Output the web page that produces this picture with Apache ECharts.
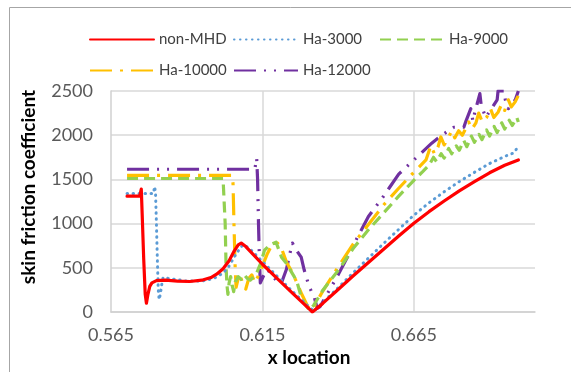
<!DOCTYPE html>
<html>
<head>
<meta charset="utf-8">
<script src="https://cdn.jsdelivr.net/npm/echarts@6/dist/echarts.min.js"></script>
<style>
  html, body { margin: 0; padding: 0; background: #fff; }
  #chart { width: 571px; height: 372px; }
</style>
</head>
<body>
<div id="chart"></div>
<script>
// Skin friction coefficient along the wall, [x location, value]
const seriesNames = ['non-MHD', 'Ha-3000', 'Ha-9000', 'Ha-10000', 'Ha-12000'];

const nonMHD = [
  [0.5703,1310],[0.5745,1310],[0.5748,1330],[0.5750,1390],[0.5753,1100],[0.5758,600],
  [0.5763,200],[0.5767,100],[0.5772,200],[0.5778,290],[0.5785,330],[0.5800,355],
  [0.5830,360],[0.5870,350],[0.5910,345],[0.5950,360],[0.5980,390],[0.6000,430],
  [0.6020,490],[0.6040,580],[0.6055,680],[0.6070,760],[0.6080,780],[0.6095,740],
  [0.6120,650],[0.6150,540],[0.6200,375],[0.6250,210],[0.6300,50],[0.6315,0],
  [0.6350,100],[0.6400,255],[0.6450,410],[0.6500,560],[0.6550,710],[0.6600,860],
  [0.6650,1005],[0.6700,1135],[0.6750,1255],[0.6800,1370],[0.6850,1475],[0.6900,1575],
  [0.6950,1660],[0.6995,1720]
];

const ha3000 = [
  [0.5703,1340],[0.5790,1340],[0.5794,1420],[0.5797,1350],[0.5800,1000],[0.5803,600],
  [0.5806,250],[0.5809,140],[0.5813,200],[0.5817,300],[0.5822,390],[0.5830,385],
  [0.5860,370],[0.5900,350],[0.5950,350],[0.5990,380],[0.6020,440],[0.6040,520],
  [0.6060,640],[0.6080,740],[0.6090,760],[0.6110,710],[0.6150,570],[0.6200,400],
  [0.6250,230],[0.6300,70],[0.6320,10],[0.6350,110],[0.6400,275],[0.6450,445],
  [0.6500,610],[0.6550,775],[0.6600,935],[0.6650,1095],[0.6700,1235],[0.6750,1360],
  [0.6800,1475],[0.6850,1580],[0.6900,1680],[0.6950,1760],[0.6980,1800],[0.6990,1850],
  [0.6995,1810]
];

const ha9000 = [
  [0.5703,1510],[0.6020,1510],[0.6025,1500],[0.6027,1000],[0.6030,500],[0.6033,300],
  [0.6036,200],[0.6040,330],[0.6045,400],[0.6050,300],[0.6055,230],[0.6060,340],
  [0.6070,400],[0.6080,370],[0.6090,420],[0.6100,380],[0.6110,360],[0.6130,430],
  [0.6145,560],[0.6157,700],[0.6175,760],[0.6195,790],[0.6213,620],[0.6229,550],
  [0.6255,400],[0.6265,330],[0.6278,170],[0.6288,100],[0.6305,20],[0.6320,80],
  [0.6350,250],[0.6400,470],[0.6450,720],[0.6500,930],[0.6550,1120],[0.6600,1310],
  [0.6650,1490],[0.6680,1590],[0.6700,1660],[0.6715,1750],[0.6725,1700],[0.6740,1790],
  [0.6750,1740],[0.6765,1850],[0.6775,1790],[0.6790,1880],[0.6800,1830],[0.6815,1940],
  [0.6825,1870],[0.6840,1990],[0.6850,1920],[0.6865,2010],[0.6875,1950],[0.6890,2060],
  [0.6900,1990],[0.6915,2100],[0.6925,2030],[0.6940,2140],[0.6950,2070],[0.6965,2170],
  [0.6975,2110],[0.6990,2200],[0.6995,2150]
];

const ha10000 = [
  [0.5703,1545],[0.6050,1545],[0.6053,1450],[0.6056,1000],[0.6060,500],[0.6063,280],
  [0.6068,350],[0.6075,430],[0.6085,320],[0.6095,260],[0.6105,380],[0.6115,420],
  [0.6125,330],[0.6135,400],[0.6150,520],[0.6165,650],[0.6180,750],[0.6200,780],
  [0.6215,700],[0.6230,560],[0.6245,470],[0.6260,360],[0.6280,200],[0.6300,60],
  [0.6313,20],[0.6350,240],[0.6400,510],[0.6450,770],[0.6500,990],[0.6550,1210],
  [0.6600,1400],[0.6650,1580],[0.6690,1720],[0.6706,1880],[0.6718,1790],[0.6730,1870],
  [0.6739,1980],[0.6750,1890],[0.6762,1960],[0.6775,2050],[0.6785,1970],[0.6798,2050],
  [0.6810,2000],[0.6822,2080],[0.6831,2150],[0.6842,2070],[0.6855,2140],[0.6864,2250],
  [0.6876,2150],[0.6890,2200],[0.6903,2300],[0.6914,2200],[0.6928,2260],[0.6940,2350],
  [0.6950,2280],[0.6962,2400],[0.6972,2320],[0.6985,2380],[0.6995,2450]
];

const ha12000 = [
  [0.5703,1615],[0.6125,1615],[0.6128,1680],[0.6131,1740],[0.6134,1500],[0.6137,1000],
  [0.6140,600],[0.6143,330],[0.6155,420],[0.6167,480],[0.6185,400],[0.6200,340],
  [0.6213,330],[0.6229,480],[0.6240,650],[0.6249,780],[0.6262,700],[0.6278,620],
  [0.6288,475],[0.6305,280],[0.6321,170],[0.6331,40],[0.6340,60],[0.6370,240],
  [0.6400,420],[0.6426,590],[0.6463,840],[0.6500,1080],[0.6550,1310],[0.6568,1400],
  [0.6600,1560],[0.6650,1720],[0.6709,1910],[0.6742,2000],[0.6782,2090],[0.6815,2090],
  [0.6822,2160],[0.6838,2300],[0.6845,2160],[0.6850,2240],[0.6868,2470],[0.6872,2350],
  [0.6887,2200],[0.6910,2320],[0.6925,2400],[0.6928,2500],[0.6948,2500],[0.6952,2400],
  [0.6962,2300],[0.6985,2400],[0.6995,2500]
];

const xTickStart = 0.565, xTickStep = 0.05, xEnd = 0.705;
const yTicks = [0, 500, 1000, 1500, 2000, 2500];

const seriesData = [nonMHD, ha3000, ha9000, ha10000, ha12000];
const colors = ['#FF0000', '#5B9BD5', '#92D050', '#FFC000', '#7030A0'];
const dashes = ['solid', [0.5, 5.5], [11, 6], [22, 8, 3, 8], [22, 8, 2, 8, 2, 8]];
const caps = ['round', 'round', 'butt', 'butt', 'butt'];
const widths = [3.2, 3, 3.2, 3.2, 3.2];

const font = 'Lato, "Liberation Sans", sans-serif';
const chart = echarts.init(document.getElementById('chart'), null, { renderer: 'canvas' });

const legendPos = [[84, 27], [228, 27], [374, 27], [84, 58], [228, 58]];

const option = {
  animation: false,
  backgroundColor: '#ffffff',
  grid: { left: 111, right: 36, top: 91, bottom: 60, containLabel: false },
  legend: seriesNames.map((n, i) => ({
    data: [n],
    left: legendPos[i][0],
    top: legendPos[i][1],
    itemWidth: 64,
    itemHeight: 14,
    itemStyle: { opacity: 0 },
    textStyle: { fontFamily: font, fontSize: 15, color: '#404040' }
  })),
  xAxis: {
    type: 'value',
    min: xTickStart,
    max: xEnd,
    interval: xTickStep,
    axisLine: { show: true, lineStyle: { color: '#D0D0D0', width: 1.5 } },
    axisTick: { show: false },
    axisLabel: {
      fontFamily: font, fontSize: 18, color: '#595959', margin: 14,
      showMaxLabel: false,
      formatter: v => v.toFixed(3)
    },
    splitLine: { show: true, showMinLine: false, showMaxLine: false,
      lineStyle: { color: '#D9D9D9', width: 1.5 } }
  },
  yAxis: {
    type: 'value',
    min: yTicks[0],
    max: yTicks[yTicks.length - 1],
    interval: yTicks[1] - yTicks[0],
    axisLine: { show: true, lineStyle: { color: '#D0D0D0', width: 1.5 } },
    axisTick: { show: false },
    axisLabel: { fontFamily: font, fontSize: 18, color: '#595959', margin: 18,
      formatter: v => String(v) },
    splitLine: { show: true, lineStyle: { color: '#D9D9D9', width: 1.5 } }
  },
  graphic: [
    { type: 'line', shape: { x1: 9.5, y1: 7.5, x2: 571, y2: 7.5 }, style: { stroke: '#A6A6A6', lineWidth: 1 } },
    { type: 'line', shape: { x1: 9.5, y1: 7.5, x2: 9.5, y2: 372 }, style: { stroke: '#A6A6A6', lineWidth: 1 } },
    { type: 'text', x: 29, y: 187, rotation: Math.PI / 2,
      style: { text: 'skin friction coefficient', fontFamily: font, fontSize: 19, fontWeight: 'bold',
        fill: '#000', textAlign: 'center', textVerticalAlign: 'middle' } },
    { type: 'text', x: 309, y: 358,
      style: { text: 'x location', fontFamily: font, fontSize: 19, fontWeight: 'bold',
        fill: '#000', textAlign: 'center', textVerticalAlign: 'middle' } }
  ],
  series: seriesNames.map((n, i) => ({
    name: n,
    type: 'line',
    data: seriesData[i],
    symbol: 'none',
    showSymbol: false,
    smooth: false,
    clip: true,
    z: 10 - i,
    itemStyle: { color: colors[i] },
    lineStyle: { color: colors[i], width: widths[i], type: dashes[i], cap: caps[i], join: 'round' }
  }))
};

chart.setOption(option);
</script>
</body>
</html>
